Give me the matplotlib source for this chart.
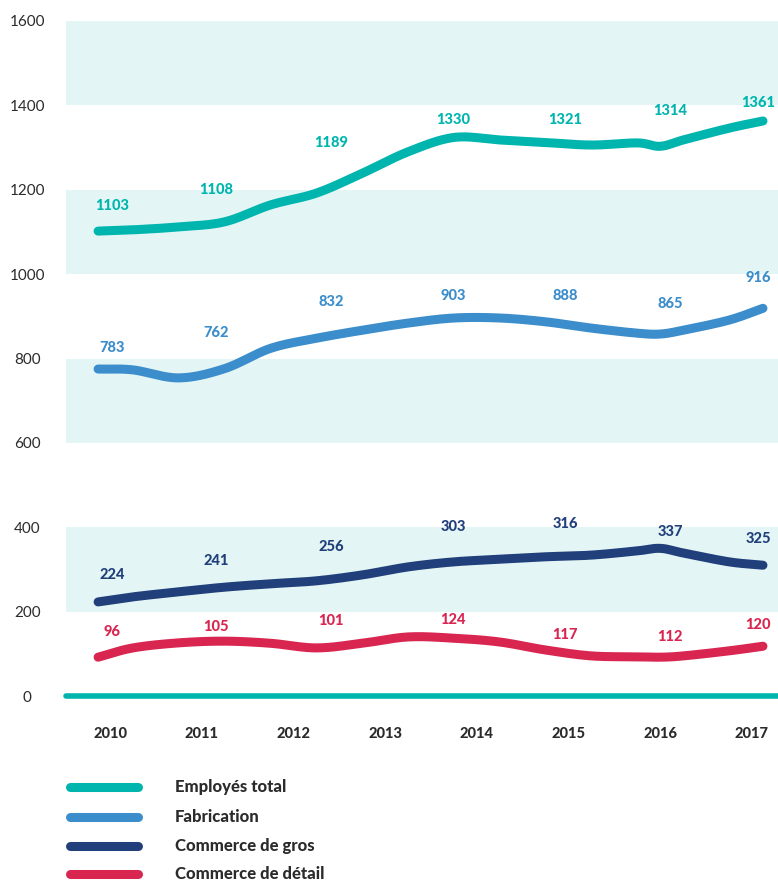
import numpy as np
import matplotlib
matplotlib.use("Agg")
import matplotlib.pyplot as plt
from matplotlib.lines import Line2D

plt.rcParams['font.family'] = ['Lato', 'DejaVu Sans']

# ---------------- data ----------------
years = [2010, 2011, 2012, 2013, 2014, 2015, 2016, 2017]
series_names = ["Employés total", "Fabrication", "Commerce de gros", "Commerce de détail"]

# annotated values
total_labels = [1103, 1108, 1189, 1330, 1321, 1314, 1361]
fab_labels = [783, 762, 832, 903, 888, 865, 916]
gros_labels = [224, 241, 256, 303, 316, 337, 325]
detail_labels = [96, 105, 101, 124, 117, 112, 120]

# points of the drawn curves
line_x = [2009.87, 2010.25, 2010.75, 2011.25, 2011.75, 2012.25, 2012.75, 2013.25,
          2013.75, 2014.25, 2014.75, 2015.25, 2015.75, 2016.0, 2016.25, 2016.75, 2017.12]
total_line = [1102, 1105, 1112, 1124, 1164, 1192, 1239, 1290,
              1324, 1318, 1312, 1306, 1311, 1303, 1318, 1346, 1363]
fab_line = [775, 773, 754, 776, 824, 848, 867, 884,
            896, 896, 887, 872, 860, 858, 867, 891, 919]
gros_line = [223, 235, 247, 258, 266, 273, 287, 306,
             318, 324, 330, 334, 344, 350, 339, 318, 310]
detail_line = [92, 114, 126, 130, 125, 114, 125, 140,
               137, 128, 109, 95, 93, 92, 95, 107, 118]

# ---------------- layout ----------------
label_x = [2010.02, 2011.16, 2012.41, 2013.74, 2014.96, 2016.11, 2017.07]
total_label_y = [1161, 1199, 1311, 1365, 1365, 1387, 1406]
fab_label_y = [825, 860, 934, 948, 948, 929, 991]
gros_label_y = [287, 320, 353, 401, 408, 389, 372]
detail_label_y = [152, 164, 178, 180, 145, 140, 168]

colors = ["#00B5AE", "#3B8DCB", "#213F7B", "#D92651"]
band_color = "#E3F6F5"
text_dark = "#2B2B2B"

W, H = 778, 884
fig = plt.figure(figsize=(W / 100, H / 100), dpi=100)
ax_left, ax_right, ax_top, ax_bottom = 66, 778, 21, 696
ax = fig.add_axes([ax_left / W, 1 - ax_bottom / H, (ax_right - ax_left) / W, (ax_bottom - ax_top) / H])
ax.set_xlim(2009.52, 2017.284)
ax.set_ylim(0, 1600)
for s in ax.spines.values():
    s.set_visible(False)

# bands
for lo in [200, 600, 1000, 1400]:
    ax.axhspan(lo, lo + 200, color=band_color, lw=0, zorder=0)

# baseline
ax.axhline(0, color=colors[0], lw=4, zorder=2, clip_on=False, solid_capstyle='round')


def catmull_rom(xs, ys, n=20):
    P = np.column_stack([xs, ys]).astype(float)
    P = np.vstack([2 * P[0] - P[1], P, 2 * P[-1] - P[-2]])
    out = []
    t = np.linspace(0, 1, n, endpoint=False)[:, None]
    for i in range(1, len(P) - 2):
        p0, p1, p2, p3 = P[i - 1], P[i], P[i + 1], P[i + 2]
        seg = 0.5 * ((2 * p1) + (-p0 + p2) * t + (2 * p0 - 5 * p1 + 4 * p2 - p3) * t ** 2
                     + (-p0 + 3 * p1 - 3 * p2 + p3) * t ** 3)
        out.append(seg)
    out.append(P[-2][None, :])
    out = np.vstack(out)
    return out[:, 0], out[:, 1]


lines = [total_line, fab_line, gros_line, detail_line]
labels = [total_labels, fab_labels, gros_labels, detail_labels]
label_ys = [total_label_y, fab_label_y, gros_label_y, detail_label_y]

for vals, lab, ly, c in zip(lines, labels, label_ys, colors):
    sx, sy = catmull_rom(line_x, vals)
    ax.plot(sx, sy, color=c, lw=6.5, solid_capstyle='round', solid_joinstyle='round', zorder=3)
    for x, y, v in zip(label_x, ly, lab):
        ax.text(x, y, str(v), color=c, fontsize=10.5, fontweight='black', ha='center', va='center', zorder=4)

# ticks
ax.set_yticks([0, 200, 400, 600, 800, 1000, 1200, 1400, 1600])
ax.tick_params(axis='y', length=0, pad=28, labelsize=11, labelcolor=text_dark)
for t in ax.get_yticklabels():
    t.set_horizontalalignment('center')
ax.set_xticks(years)
ax.set_xticklabels([str(y) for y in years], fontweight='black')
ax.tick_params(axis='x', length=0, pad=22, labelsize=10.5, labelcolor=text_dark)

# legend
leg_y = [787, 817, 846, 874]
for yy, c, name in zip(leg_y, colors, series_names):
    fy = 1 - yy / H
    fig.add_artist(Line2D([70 / W, 138 / W], [fy, fy], color=c, lw=6.5, solid_capstyle='round',
                          transform=fig.transFigure))
    fig.text(175 / W, fy, name, fontsize=12, fontweight='black', color=text_dark, va='center', ha='left')

fig.savefig("out.png", dpi=100)
